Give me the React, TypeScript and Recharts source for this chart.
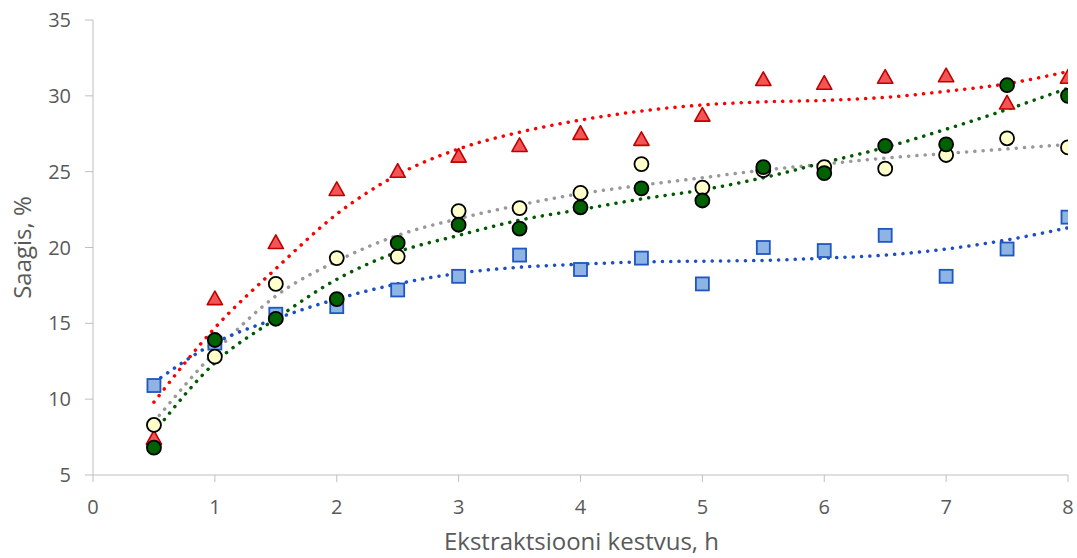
import React from 'react';
import { ComposedChart, Scatter, Line, XAxis, YAxis, Label } from 'recharts';

const hours = [0.5, 1, 1.5, 2, 2.5, 3, 3.5, 4, 4.5, 5, 5.5, 6, 6.5, 7, 7.5, 8];
const redValues = [7.4, 16.6, 20.3, 23.8, 25.0, 26.0, 26.7, 27.5, 27.1, 28.7, 31.05, 30.8, 31.2, 31.3, 29.5, 31.2];
const blueValues = [10.9, 13.7, 15.6, 16.1, 17.2, 18.1, 19.5, 18.55, 19.3, 17.6, 20.0, 19.8, 20.8, 18.1, 19.9, 22.0];
const yellowValues = [8.3, 12.8, 17.6, 19.3, 19.4, 22.4, 22.6, 23.6, 25.5, 23.95, 25.1, 25.3, 25.2, 26.1, 27.2, 26.6];
const greenValues = [6.8, 13.9, 15.3, 16.6, 20.3, 21.5, 21.25, 22.65, 23.9, 23.1, 25.3, 24.9, 26.7, 26.8, 30.7, 30.0];

const redTrend = [9.8, 14.7, 18.6, 22.2, 24.8, 26.5, 27.6, 28.4, 29.0, 29.4, 29.6, 29.7, 29.9, 30.3, 30.8, 31.6];
const blueTrend = [11.1, 13.7, 15.3, 16.6, 17.6, 18.3, 18.7, 18.9, 19.05, 19.1, 19.15, 19.3, 19.5, 19.9, 20.5, 21.3];
const yellowTrend = [8.5, 13.1, 16.8, 19.1, 20.8, 21.9, 22.8, 23.55, 24.1, 24.6, 25.1, 25.5, 25.9, 26.2, 26.5, 26.8];
const greenTrend = [7.8, 12.4, 15.3, 17.9, 19.7, 20.8, 21.8, 22.5, 23.2, 23.8, 24.6, 25.6, 26.6, 27.8, 29.1, 30.5];

const xTicks = [0, 1, 2, 3, 4, 5, 6, 7, 8];
const yTicks = [5, 10, 15, 20, 25, 30, 35];

const xTitle = 'Ekstraktsiooni kestvus, h';
const yTitle = 'Saagis, %';

const data = hours.map((x, i) => ({
  x,
  red: redValues[i],
  blue: blueValues[i],
  yellow: yellowValues[i],
  green: greenValues[i],
  redT: redTrend[i],
  blueT: blueTrend[i],
  yellowT: yellowTrend[i],
  greenT: greenTrend[i],
}));

const FONT = "'Open Sans', 'Liberation Sans', sans-serif";
const TEXT = '#595959';
const AXIS = '#bfbfbf';

const Triangle = (p: any) => {
  const { cx, cy } = p;
  if (cx == null || cy == null) return null;
  const s = 8;
  const pts = `${cx},${cy - s} ${cx + s * 0.95},${cy + s * 0.7} ${cx - s * 0.95},${cy + s * 0.7}`;
  return <polygon points={pts} fill="#f25555" stroke="#c00000" strokeWidth={1.6} strokeLinejoin="round" />;
};
const Square = (p: any) => {
  const { cx, cy } = p;
  if (cx == null || cy == null) return null;
  const s = 6.5;
  return <rect x={cx - s} y={cy - s} width={2 * s} height={2 * s} fill="#8eb4e3" stroke="#1f56c2" strokeWidth={1.8} />;
};
const Dot = (fill: string) => (p: any) => {
  const { cx, cy } = p;
  if (cx == null || cy == null) return null;
  return <circle cx={cx} cy={cy} r={7} fill={fill} stroke="#000" strokeWidth={1.8} />;
};

const trendProps = {
  type: 'monotone' as const,
  dot: false,
  activeDot: false,
  strokeWidth: 3.5,
  strokeDasharray: '0.1 8.2',
  strokeLinecap: 'round' as const,
  isAnimationActive: false,
  legendType: 'none' as const,
};

const titleStyle = { fill: TEXT, fontSize: 24, fontFamily: FONT };

export default function App() {
  return (
    <div style={{ position: 'absolute', left: 0, top: 0, width: 1077, height: 558, background: '#fff' }}>
      <ComposedChart width={1077} height={558} data={data} margin={{ top: 20, right: 9, left: 0, bottom: 0 }}>
        <XAxis
          dataKey="x"
          type="number"
          domain={[0, 8]}
          ticks={xTicks}
          interval={0}
          height={83}
          stroke={AXIS}
          tickSize={7}
          tickMargin={18}
          tick={{ fill: TEXT, fontSize: 20, fontFamily: FONT }}
          allowDataOverflow
        >
          <Label
            content={() => (
              <text x={581.5} y={550} textAnchor="middle" style={titleStyle}>
                {xTitle}
              </text>
            )}
          />
        </XAxis>
        <YAxis
          type="number"
          domain={[5, 35]}
          ticks={yTicks}
          interval={0}
          width={93}
          stroke={AXIS}
          tickSize={8}
          tickMargin={14}
          tick={{ fill: TEXT, fontSize: 20, fontFamily: FONT }}
          allowDataOverflow
        >
          <Label
            content={() => (
              <text x={31} y={247.5} transform="rotate(-90 31 247.5)" textAnchor="middle" style={titleStyle}>
                {yTitle}
              </text>
            )}
          />
        </YAxis>
        <Scatter dataKey="red" shape={Triangle} isAnimationActive={false} />
        <Scatter dataKey="blue" shape={Square} isAnimationActive={false} />
        <Scatter dataKey="yellow" shape={Dot('#ffffcc')} isAnimationActive={false} />
        <Scatter dataKey="green" shape={Dot('#006100')} isAnimationActive={false} />
        <Line dataKey="redT" stroke="#ff0000" {...trendProps} />
        <Line dataKey="yellowT" stroke="#999999" {...trendProps} />
        <Line dataKey="greenT" stroke="#005a00" {...trendProps} />
        <Line dataKey="blueT" stroke="#1c4fc4" {...trendProps} />
      </ComposedChart>
    </div>
  );
}
